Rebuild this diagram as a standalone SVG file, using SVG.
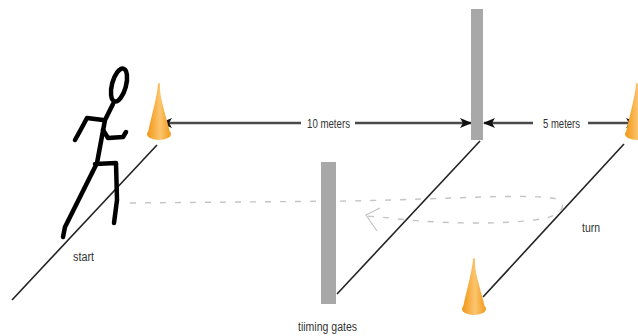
<svg xmlns="http://www.w3.org/2000/svg" width="638" height="336" viewBox="0 0 638 336">
  <defs>
    <linearGradient id="coneFill" x1="0" y1="0" x2="1" y2="0">
      <stop offset="0" stop-color="#f39718"/>
      <stop offset="0.55" stop-color="#fbc56e"/>
      <stop offset="1" stop-color="#f39a1c"/>
    </linearGradient>
    <marker id="head" viewBox="0 0 12 10" refX="11" refY="5" markerWidth="12" markerHeight="10" markerUnits="userSpaceOnUse" orient="auto-start-reverse">
      <path d="M0,0 L12,5 L0,10 L3,5 z" fill="#111"/>
    </marker>
    <g id="cone">
      <path d="M-1,1 Q0,-1 1,1 C-0,15 9,38 11,50 L-11,50 C-9,38 -2,15 -1,1 z" fill="url(#coneFill)"/>
      <ellipse cx="0" cy="51" rx="12" ry="6" fill="url(#coneFill)"/>
    </g>
  </defs>
  <style>
    .track { stroke: #222; stroke-width: 1.6; fill: none; }
    .gate { fill: #a8a8a8; }
    .dim { stroke: #4a4a4a; stroke-width: 2.6; fill: none; }
    .path { stroke: #c4c4c4; stroke-width: 1.4; fill: none; stroke-dasharray: 6 9; }
    .limb { stroke: #000; stroke-width: 4.5; fill: none; stroke-linecap: round; stroke-linejoin: round; }
    .lbl { font-family: "Liberation Sans", Arial, sans-serif; font-size: 12.5px; fill: #333; }
  </style>

  <rect width="638" height="336" fill="#fff"/>

  <!-- ground lines of the course -->
  <g id="connectors">
    <line class="track" x1="157" y1="145" x2="12" y2="300"/>
    <line class="track" x1="480" y1="141" x2="337" y2="294"/>
    <line class="track" x1="624" y1="144" x2="483" y2="297"/>

    <!-- distance arrows -->
    <line class="dim" x1="161" y1="123" x2="301" y2="123" marker-start="url(#head)"/>
    <line class="dim" x1="355" y1="123" x2="471" y2="123" marker-end="url(#head)"/>
    <line class="dim" x1="484" y1="123" x2="533" y2="123" marker-start="url(#head)"/>
    <line class="dim" x1="588" y1="123" x2="637" y2="123" marker-end="url(#head)"/>

    <!-- run out and back -->
    <path class="path" d="M130,203 L350,201 C450,199 535,193 556,199 C568,205 562,214 546,218 C500,227 420,222 390,218 L367,216"/>
    <path d="M380,208 L366,215 L377,231" stroke="#c4c4c4" stroke-width="1.2" fill="none"/>
  </g>

  <!-- timing gates -->
  <g id="gate-far">
    <rect class="gate" x="471" y="9" width="12" height="131"/>
  </g>
  <g id="gate-near">
    <rect class="gate" x="321" y="162" width="15" height="142"/>
  </g>

  <!-- cones -->
  <g id="cone-start">
    <use href="#cone" x="159" y="83"/>
  </g>
  <g id="cone-turn">
    <use href="#cone" x="637" y="83"/>
  </g>
  <g id="cone-near">
    <use href="#cone" x="474" y="258"/>
  </g>

  <!-- runner -->
  <g id="runner">
    <ellipse class="limb" cx="119" cy="85" rx="7" ry="17" transform="rotate(15 119 85)" stroke-width="4"/>
    <path class="limb" d="M113,104 L105,120 L97,163"/>
    <path class="limb" d="M103,120 L87,118 L80,131 L75,140"/>
    <path class="limb" d="M103,130 L108,138 L123,137 L126,132"/>
    <path class="limb" d="M95,164 L116,163 L117,200 L114,223"/>
    <path class="limb" d="M96,165 L82,193 L65,227 L63,237"/>
  </g>

  <!-- labels -->
  <g id="labels">
    <text class="lbl" x="73" y="261" textLength="21" lengthAdjust="spacingAndGlyphs">start</text>
    <text class="lbl" x="307" y="127.5" textLength="43" lengthAdjust="spacingAndGlyphs">10 meters</text>
    <text class="lbl" x="543" y="127.5" textLength="37" lengthAdjust="spacingAndGlyphs">5 meters</text>
    <text class="lbl" x="582" y="232" textLength="18" lengthAdjust="spacingAndGlyphs">turn</text>
    <text class="lbl" x="298" y="331" textLength="59" lengthAdjust="spacingAndGlyphs">tiiming gates</text>
  </g>
</svg>
